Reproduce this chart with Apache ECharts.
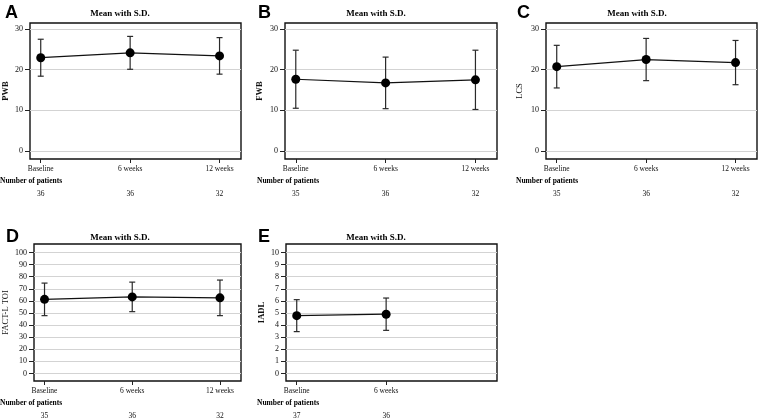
<!DOCTYPE html>
<html>
<head>
<meta charset="utf-8">
<script src="https://cdn.jsdelivr.net/npm/echarts@6/dist/echarts.min.js"></script>
<style>
html, body { margin: 0; padding: 0; background: #fff; }
#main { width: 758px; height: 420px; }
</style>
</head>
<body>
<div id="main"></div>
<script>
// data
var timepoints = ['Baseline', '6 weeks', '12 weeks'];

var pwbMean = [22.95, 24.15, 23.4];
var pwbSD = [4.55, 4.05, 4.5];
var pwbN = [36, 36, 32];

var fwbMean = [17.65, 16.75, 17.5];
var fwbSD = [7.15, 6.35, 7.3];
var fwbN = [35, 36, 32];

var lcsMean = [20.75, 22.5, 21.75];
var lcsSD = [5.25, 5.2, 5.45];
var lcsN = [35, 36, 32];

var toiMean = [61.25, 63.3, 62.5];
var toiSD = [13.45, 12.2, 14.7];
var toiN = [35, 36, 32];

var iadlMean = [4.78, 4.9];
var iadlSD = [1.32, 1.335];
var iadlN = [37, 36];

var ticks30 = [0, 10, 20, 30];
var ticks100 = [0, 10, 20, 30, 40, 50, 60, 70, 80, 90, 100];
var ticks10 = [0, 1, 2, 3, 4, 5, 6, 7, 8, 9, 10];

var serif = 'Liberation Serif';

var panels = [
	{ letter: 'A', name: 'PWB', bold: true, mean: pwbMean, sd: pwbSD, n: pwbN, ticks: ticks30, yMin: -2, yMax: 31.5,
	  left: 30, top: 23, width: 211, height: 136, nameGap: 20, titleX: 120, titleY: 14, letterX: 5, letterY: 13, nopX: 0, nopY: 181 },
	{ letter: 'B', name: 'FWB', bold: true, mean: fwbMean, sd: fwbSD, n: fwbN, ticks: ticks30, yMin: -2, yMax: 31.5,
	  left: 285, top: 23, width: 212, height: 136, nameGap: 21, titleX: 376, titleY: 14, letterX: 258, letterY: 13, nopX: 257, nopY: 181 },
	{ letter: 'C', name: 'LCS', bold: false, mean: lcsMean, sd: lcsSD, n: lcsN, ticks: ticks30, yMin: -2, yMax: 31.5,
	  left: 546, top: 23, width: 211, height: 136, nameGap: 22, titleX: 637, titleY: 14, letterX: 517, letterY: 13, nopX: 516, nopY: 181 },
	{ letter: 'D', name: 'FACT-L TOI', bold: false, mean: toiMean, sd: toiSD, n: toiN, ticks: ticks100, yMin: -6.2, yMax: 107,
	  left: 33, top: 244, width: 208, height: 138, nameGap: 24, titleX: 120, titleY: 238, letterX: 6, letterY: 237, nopX: 0, nopY: 403 },
	{ letter: 'E', name: 'IADL', bold: true, mean: iadlMean, sd: iadlSD, n: iadlN, ticks: ticks10, yMin: -0.62, yMax: 10.7,
	  left: 286, top: 244, width: 211, height: 138, nameGap: 20, titleX: 376, titleY: 238, letterX: 258, letterY: 237, nopX: 257, nopY: 403 }
];

function errorBars(params, api) {
	var x = api.value(0);
	var lo = api.coord([x, api.value(1)]);
	var hi = api.coord([x, api.value(2)]);
	var w = 3;
	var st = { stroke: '#2a2a2a', lineWidth: 1.2 };
	return {
		type: 'group',
		children: [
			{ type: 'line', shape: { x1: lo[0], y1: lo[1], x2: hi[0], y2: hi[1] }, style: st },
			{ type: 'line', shape: { x1: lo[0] - w, y1: lo[1], x2: lo[0] + w, y2: lo[1] }, style: st },
			{ type: 'line', shape: { x1: hi[0] - w, y1: hi[1], x2: hi[0] + w, y2: hi[1] }, style: st }
		]
	};
}

var grids = [], xAxes = [], yAxes = [], series = [], graphics = [];

panels.forEach(function (p, i) {
	var idx = p.mean.map(function (m, k) { return k; });

	grids.push({
		left: p.left, top: p.top, width: p.width, height: p.height,
		show: true, borderColor: '#111', borderWidth: 1.4, backgroundColor: 'transparent'
	});

	xAxes.push({
		type: 'value', gridIndex: i, min: -0.12, max: 2.24, position: 'bottom',
		axisLine: { show: false, onZero: false },
		axisTick: { show: true, customValues: idx, length: 4, lineStyle: { color: '#222' } },
		axisLabel: {
			customValues: idx, margin: 6, fontFamily: serif, fontSize: 7.5, color: '#111',
			formatter: function (v) { return timepoints[Math.round(v)]; }
		},
		splitLine: { show: false }
	});
	xAxes.push({
		type: 'value', gridIndex: i, min: -0.12, max: 2.24, position: 'bottom', offset: 25,
		axisLine: { show: false, onZero: false },
		axisTick: { show: false, customValues: idx },
		axisLabel: {
			customValues: idx, margin: 6, fontFamily: serif, fontSize: 7.5, color: '#111',
			formatter: function (v) { return String(p.n[Math.round(v)]); }
		},
		splitLine: { show: false }
	});

	yAxes.push({
		type: 'value', gridIndex: i, min: p.yMin, max: p.yMax, position: 'left',
		name: p.name, nameLocation: 'middle', nameGap: p.nameGap,
		nameTextStyle: { fontFamily: serif, fontSize: 8.5, fontWeight: p.bold ? 'bold' : 'normal', color: '#111' },
		axisLine: { show: false, onZero: false },
		axisTick: { show: true, customValues: p.ticks, length: 5, lineStyle: { color: '#222' } },
		axisLabel: { customValues: p.ticks, margin: 7, fontFamily: serif, fontSize: 8, color: '#111' },
		splitLine: { show: true, lineStyle: { color: '#d3d3d3', width: 1 } }
	});

	series.push({
		type: 'custom', xAxisIndex: i * 2, yAxisIndex: i,
		renderItem: errorBars,
		data: p.mean.map(function (m, k) { return [k, m - p.sd[k], m + p.sd[k]]; }),
		z: 2, silent: true
	});
	series.push({
		type: 'line', xAxisIndex: i * 2, yAxisIndex: i,
		data: p.mean.map(function (m, k) { return [k, m]; }),
		symbol: 'circle', symbolSize: 9,
		itemStyle: { color: '#000' },
		lineStyle: { color: '#111', width: 1.2 },
		z: 3, silent: true
	});

	graphics.push({
		type: 'text', x: p.letterX, y: p.letterY,
		style: { text: p.letter, fontFamily: 'Liberation Sans', fontWeight: 'bold', fontSize: 18, fill: '#000', align: 'left', verticalAlign: 'middle' }
	});
	graphics.push({
		type: 'text', x: p.titleX, y: p.titleY,
		style: { text: 'Mean with S.D.', fontFamily: serif, fontWeight: 'bold', fontSize: 9, fill: '#000', align: 'center', verticalAlign: 'middle' }
	});
	graphics.push({
		type: 'text', x: p.nopX, y: p.nopY,
		style: { text: 'Number of patients', fontFamily: serif, fontWeight: 'bold', fontSize: 7.5, fill: '#000', align: 'left', verticalAlign: 'middle' }
	});
});

var chart = echarts.init(document.getElementById('main'));
chart.setOption({
	animation: false,
	backgroundColor: '#fff',
	grid: grids,
	xAxis: xAxes,
	yAxis: yAxes,
	series: series,
	graphic: { elements: graphics }
});
</script>
</body>
</html>
